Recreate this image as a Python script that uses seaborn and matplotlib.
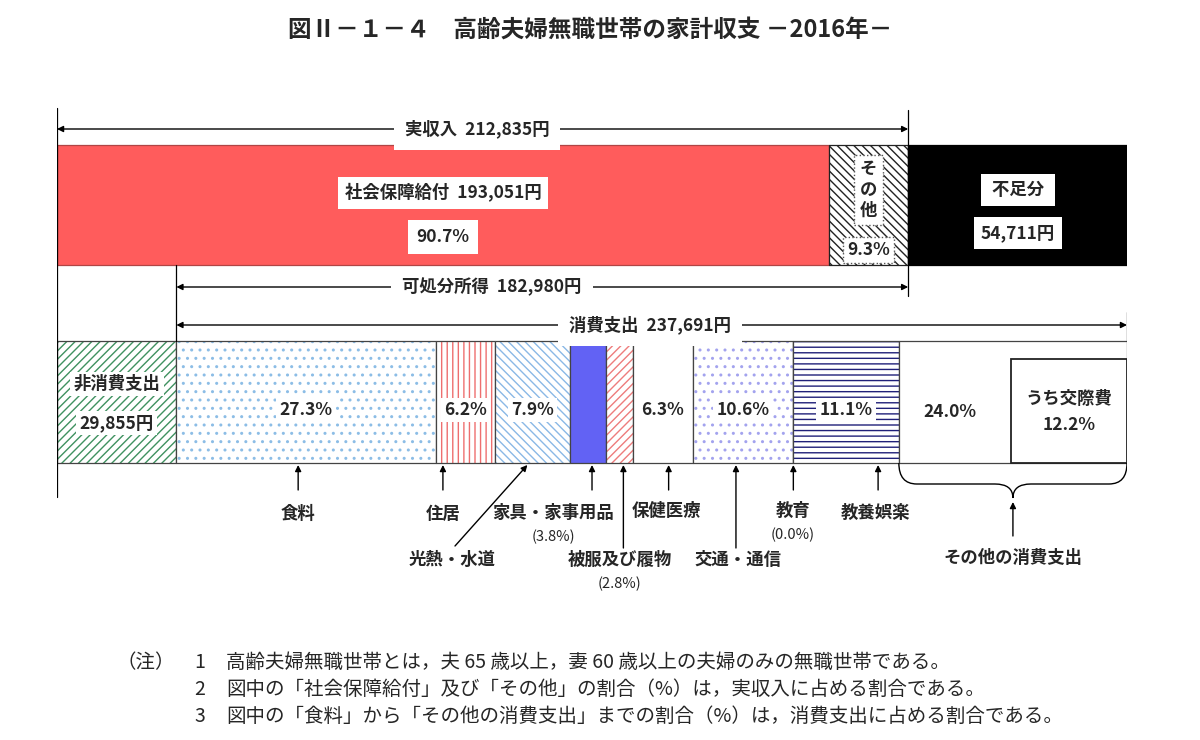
import matplotlib.pyplot as plt
from matplotlib.patches import PathPatch, Rectangle
from matplotlib.path import Path
import seaborn as sns

# 高齢夫婦無職世帯の家計収支 (2016年)
income_labels = ['社会保障給付', 'その他', '不足分']
income_values = [193051, 19784, 54711]
income_pct = [90.7, 9.3]
real_income = 212835
disposable_income = 182980
non_consumption = 29855
consumption = 237691

cons_labels = ['食料', '住居', '光熱・水道', '家具・家事用品', '被服及び履物',
               '保健医療', '交通・通信', '教育', '教養娯楽', 'その他の消費支出']
cons_pct = [27.3, 6.2, 7.9, 3.8, 2.8, 6.3, 10.6, 0.0, 11.1, 24.0]
kousai_pct = 12.2

notes = ['高齢夫婦無職世帯とは，夫 65 歳以上，妻 60 歳以上の夫婦のみの無職世帯である。',
         '図中の「社会保障給付」及び「その他」の割合（%）は，実収入に占める割合である。',
         '図中の「食料」から「その他の消費支出」までの割合（%）は，消費支出に占める割合である。']

sns.set_theme(style='white')
plt.rcParams['font.family'] = ['Noto Sans CJK JP', 'DejaVu Sans']
plt.rcParams['hatch.linewidth'] = 1.0

fig = plt.figure(figsize=(12, 7.4), dpi=100)
ax = fig.add_axes([57 / 1200, 0, 1070 / 1200, 1])
total = sum(income_values)
ax.set_xlim(0, total)
ax.set_ylim(740, 0)
ax.axis('off')


def px(x):
    # 画面上の横位置(px) -> 円
    return (x - 57) / 1070 * total


def seg(y, left, width, h, face, hatch=None, hc=None, edge='#444444'):
    if hatch:
        ax.barh(y, width, left=left, height=h, color=face, hatch=hatch,
                edgecolor=hc, linewidth=0)
        ax.barh(y, width, left=left, height=h, fill=False, edgecolor=edge, linewidth=0.9)
    else:
        ax.barh(y, width, left=left, height=h, color=face, edgecolor=edge, linewidth=0.9)


FS = 12.5
box = dict(facecolor='white', edgecolor='none', pad=2.5)
lab = dict(fontsize=FS, fontweight='bold', ha='center', va='center')

# ---- 上段: 収入
TY, TH = 205, 120
lefts = [0, income_values[0], income_values[0] + income_values[1]]
seg(TY, lefts[0], income_values[0], TH, '#ff5c5c', edge='#b04545')
seg(TY, lefts[1], income_values[1], TH, 'white', hatch='\\\\\\\\', hc='#222222', edge='#222222')
seg(TY, lefts[2], income_values[2], TH, 'black', edge='black')

cx = lefts[0] + income_values[0] / 2
ax.text(cx, 193, f'{income_labels[0]}  {income_values[0]:,}円',
        bbox=dict(facecolor='white', edgecolor='none', pad=4.5), **lab)
ax.text(cx, 237, f'{income_pct[0]}%', bbox=dict(facecolor='white', edgecolor='none', pad=6), **lab)
cx = lefts[1] + income_values[1] / 2
ax.text(cx, 190, '\n'.join(income_labels[1]), linespacing=1.2,
        bbox=dict(facecolor='white', edgecolor='#555555', linestyle=':', pad=4), **lab)
ax.text(cx, 250, f'{income_pct[1]}%', bbox=dict(facecolor='white', edgecolor='#555555',
                                                 linestyle=':', pad=3), **lab)
cx = lefts[2] + income_values[2] / 2
ax.text(cx, 190, f' {income_labels[2]} ', bbox=dict(facecolor='white', edgecolor='none', pad=5), **lab)
ax.text(cx, 233, f'{income_values[2]:,}円', bbox=dict(facecolor='white', edgecolor='none', pad=5), **lab)

# ---- 下段: 支出
BY, BH = 402, 122
seg(BY, 0, non_consumption, BH, 'white', hatch='////', hc='#3f9160')
ax.text(non_consumption / 2, 384, '非消費支出', bbox=box, **lab)
ax.text(non_consumption / 2, 423, f'{non_consumption:,}円', bbox=box, **lab)

styles = [('white', '..', '#8cbde6'), ('white', '|||', '#ee6f6f'), ('white', '\\\\\\\\', '#8ab8e6'),
          ('#6262f4', None, None), ('white', '////', '#ee7c7c'), ('white', None, None),
          ('white', '..', '#a3a3ee'), ('white', None, None), ('white', '---', '#1f1f78'),
          ('white', None, None)]
cons_vals = [consumption * p / 100 for p in cons_pct]
starts = []
x = non_consumption
for v, (fc, ht, hc) in zip(cons_vals, styles):
    starts.append(x)
    seg(BY, x, v, BH, fc, hatch=ht, hc=hc)
    x += v
centers = [s + v / 2 for s, v in zip(starts, cons_vals)]

for i in [0, 1, 2, 5, 6, 8]:
    ax.text(centers[i], 410, f'{cons_pct[i]}%', bbox=box, **lab)
ax.text(px(950), 412, f'{cons_pct[9]}%', **lab)

# うち交際費
kw = consumption * kousai_pct / 100
ax.add_patch(Rectangle((total - kw, 359), kw, 104, facecolor='white', edgecolor='#222222', lw=1.3))
ax.text(total - kw / 2, 412, f'うち交際費\n{kousai_pct}%', linespacing=1.5, **lab)

# ---- 幅の矢印
arr = dict(arrowstyle='<|-|>', mutation_scale=9, lw=1, color='black', shrinkA=0, shrinkB=0)
wbox = dict(facecolor='white', edgecolor='none', pad=8)
ax.annotate('', xy=(0, 129), xytext=(real_income, 129), arrowprops=arr)
ax.text(px(477), 129, f'実収入  {real_income:,}円', bbox=wbox, **lab)
ax.annotate('', xy=(non_consumption, 287), xytext=(real_income, 287), arrowprops=arr)
ax.text(px(492), 287, f'可処分所得  {disposable_income:,}円', bbox=wbox, **lab)
ax.annotate('', xy=(non_consumption, 325), xytext=(total, 325), arrowprops=arr)
ax.text(px(650), 325, f'消費支出  {consumption:,}円', bbox=wbox, **lab)

vline = dict(color='black', lw=0.9)
ax.plot([0, 0], [108, 497], **vline)
ax.plot([real_income, real_income], [110, 296], **vline)
ax.plot([non_consumption, non_consumption], [265, 341], **vline)
ax.plot([total, total], [312, 341], **vline)

# ---- 下の引き出し矢印
up = dict(arrowstyle='-|>', mutation_scale=9, lw=1, color='black', shrinkA=0, shrinkB=0)
name = dict(fontsize=FS, fontweight='bold', ha='center', va='center')
small = dict(fontsize=10.5, ha='center', va='center')


def pointer(x, y0, tx, ty, text, sub=None, x0=None):
    ax.annotate('', xy=(x, 465), xytext=(x if x0 is None else x0, y0), arrowprops=up)
    ax.text(tx, ty, text, **name)
    if sub:
        ax.text(tx, ty + 24, sub, **small)


pointer(centers[0] - px(65), 490, centers[0] - px(65), 514, cons_labels[0])
pointer(starts[1] + px(64), 490, starts[1] + px(64), 514, cons_labels[1])
pointer(centers[2] - px(62), 546, px(452), 560, cons_labels[2], x0=px(455))
pointer(centers[3] + px(61), 490, px(553), 513, cons_labels[3], f'({cons_pct[3]}%)')
pointer(centers[4] + px(61), 548, px(620), 560, cons_labels[4], f'({cons_pct[4]}%)')
pointer(centers[5] + px(63), 490, px(666), 511, cons_labels[5])
pointer(centers[6] - px(64), 548, px(738), 560, cons_labels[6])
pointer(starts[7] + px(57), 490, px(793), 511, cons_labels[7], f'({cons_pct[7]:.1f}%)')
pointer(centers[8] + px(89), 490, px(876), 513, cons_labels[8])

# 中括弧
xl, xr = starts[9], total
xm = (xl + xr) / 2
d = px(57 + 18)
verts = [(xl, 463), (xl, 484), (xl + d, 484), (xm - d, 484), (xm, 484), (xm, 498),
         (xm, 484), (xm + d, 484), (xr - d, 484), (xr, 484), (xr, 463)]
codes = [Path.MOVETO, Path.CURVE3, Path.CURVE3, Path.LINETO, Path.CURVE3, Path.CURVE3,
         Path.CURVE3, Path.CURVE3, Path.LINETO, Path.CURVE3, Path.CURVE3]
ax.add_patch(PathPatch(Path(verts, codes), facecolor='none', edgecolor='black', lw=1))
ax.annotate('', xy=(xm, 502), xytext=(xm, 536), arrowprops=up)
ax.text(xm, 558, cons_labels[9], **name)

# ---- タイトルと注
fig.text(590 / 1200, 1 - 30 / 740, '図Ⅱ－１－４　高齢夫婦無職世帯の家計収支 －2016年－',
         fontsize=17, fontweight='bold', ha='center', va='center')
fig.text(116 / 1200, 1 - 663 / 740, '（注）', fontsize=14, ha='left', va='center')
for i, t in enumerate(notes):
    y = 1 - (663 + 26.5 * i) / 740
    fig.text(194 / 1200, y, str(i + 1), fontsize=14, ha='left', va='center')
    fig.text(226 / 1200, y, t, fontsize=14, ha='left', va='center')

fig.savefig('out.png', dpi=100)
